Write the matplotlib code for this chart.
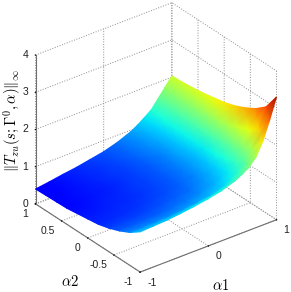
import numpy as np
import matplotlib
matplotlib.use("Agg")
import matplotlib.pyplot as plt
from matplotlib.colors import Normalize
from mpl_toolkits.mplot3d import proj3d

# values
alpha1 = [-1, -0.8, -0.6, -0.4, -0.2, 0, 0.2, 0.4, 0.5, 0.6, 0.7, 0.8, 0.9, 1]
alpha2 = [1, 0.8, 0.6, 0.4, 0.2, 0, -0.2, -0.4, -0.6, -0.8, -1]
norm_inf = [
    [0.40, 0.45, 0.51, 0.56, 0.63, 0.70, 0.81, 0.96, 1.07, 1.20, 1.34, 1.57, 1.80, 2.03],
    [0.41, 0.45, 0.50, 0.55, 0.61, 0.67, 0.78, 0.92, 1.03, 1.15, 1.30, 1.54, 1.79, 2.05],
    [0.42, 0.46, 0.50, 0.54, 0.60, 0.65, 0.75, 0.89, 0.99, 1.11, 1.26, 1.51, 1.79, 2.08],
    [0.43, 0.46, 0.50, 0.53, 0.58, 0.64, 0.73, 0.86, 0.96, 1.08, 1.24, 1.50, 1.80, 2.12],
    [0.47, 0.49, 0.52, 0.55, 0.60, 0.65, 0.73, 0.86, 0.96, 1.07, 1.23, 1.50, 1.83, 2.18],
    [0.51, 0.53, 0.55, 0.57, 0.61, 0.66, 0.73, 0.85, 0.95, 1.06, 1.22, 1.50, 1.86, 2.24],
    [0.55, 0.56, 0.58, 0.60, 0.64, 0.68, 0.75, 0.87, 0.97, 1.08, 1.25, 1.54, 1.92, 2.33],
    [0.63, 0.64, 0.65, 0.67, 0.71, 0.75, 0.81, 0.93, 1.02, 1.13, 1.31, 1.61, 2.02, 2.46],
    [0.74, 0.74, 0.75, 0.77, 0.80, 0.84, 0.91, 1.02, 1.11, 1.22, 1.40, 1.71, 2.15, 2.62],
    [0.88, 0.88, 0.89, 0.91, 0.94, 0.99, 1.05, 1.16, 1.25, 1.37, 1.55, 1.88, 2.34, 2.85],
    [1.08, 1.10, 1.12, 1.16, 1.21, 1.27, 1.35, 1.48, 1.58, 1.70, 1.90, 2.25, 2.75, 3.30],
]
alpha1_ticks = [-1, 0, 1]
alpha1_labels = ["-1", "0", "1"]
alpha2_ticks = [-1, -0.5, 0, 0.5, 1]
alpha2_labels = ["-1", "-0.5", "0", "0.5", "1"]
z_ticks = [0, 1, 2, 3, 4]
z_labels = ["0", "1", "2", "3", "4"]

plt.rcParams["font.family"] = "Liberation Sans"
plt.rcParams["mathtext.fontset"] = "cm"
plt.rcParams["font.size"] = 7.5

rect = [7.6 / 291, 6.2 / 292, 289 / 291, 289 / 292]
fig = plt.figure(figsize=(2.91, 2.92), dpi=100)
ax = fig.add_axes(rect, projection="3d")
ax.set_proj_type("ortho")
ax.set_box_aspect((1, 1, 1))
ax.view_init(elev=30, azim=-127.5)

ax.set_xlim(-1, 1, view_margin=0)
ax.set_ylim(-1, 1, view_margin=0)
ax.set_zlim(0, 4, view_margin=0)
ax.set_xticks(alpha1_ticks)
ax.set_yticks(alpha2_ticks)
ax.set_zticks(z_ticks)
ax.set_xticklabels([])
ax.set_yticklabels([])
ax.set_zticklabels([])

for axis in (ax.xaxis, ax.yaxis, ax.zaxis):
    axis.set_pane_color((1, 1, 1, 0))
    axis.pane.set_edgecolor("none")
    axis.line.set_color("#707070")
    axis.line.set_linewidth(0.8)
    axis._axinfo["grid"].update(color="#8c8c8c", linestyle=":", linewidth=0.7)
    axis._axinfo["tick"].update(inward_factor=0.02, outward_factor=0.0)

# surface goes on a flat overlay so the renderer can shade it smoothly
M = ax.get_proj()
X, Y = np.meshgrid(alpha1, alpha2)
Z = np.array(norm_inf)
xp, yp, _ = proj3d.proj_transform(X.ravel(), Y.ravel(), Z.ravel(), M)
xp = np.reshape(xp, X.shape)
yp = np.reshape(yp, X.shape)

ax2 = fig.add_axes(rect, facecolor="none")
ax2.pcolormesh(xp, yp, Z, shading="gouraud", cmap="jet", norm=Normalize(0, 3.4))
ax2.set_xlim(ax.viewLim.intervalx)
ax2.set_ylim(ax.viewLim.intervaly)
ax2.axis("off")


def tick_text(ticks, labels, where, offset, ha):
    for t, s in zip(ticks, labels):
        px, py, _ = proj3d.proj_transform(*where(t), M)
        ax2.annotate(s, (px, py), xytext=offset, textcoords="offset pixels",
                     ha=ha, va="center", color="#202020", annotation_clip=False)


tick_text(alpha1_ticks, alpha1_labels, lambda t: (t, -1, 0), (7, -10.5), "left")
tick_text(alpha2_ticks, alpha2_labels, lambda t: (-1, t, 0), (-7, -10), "right")
tick_text(z_ticks, z_labels, lambda t: (-1, 1, t), (-7, 0), "right")

fig.text(70 / 291, 1 - 282 / 292, r"$\alpha 2$", fontsize=10.5, ha="center", va="center")
fig.text(221 / 291, 1 - 285 / 292, r"$\alpha 1$", fontsize=10.5, ha="center", va="center")
fig.text(12 / 291, 1 - 120 / 292, r"$\|T_{zu}(s;\Gamma^0,\alpha)\|_\infty$", fontsize=10.5,
         rotation=90, ha="center", va="center")

fig.savefig("out.png", dpi=100)
